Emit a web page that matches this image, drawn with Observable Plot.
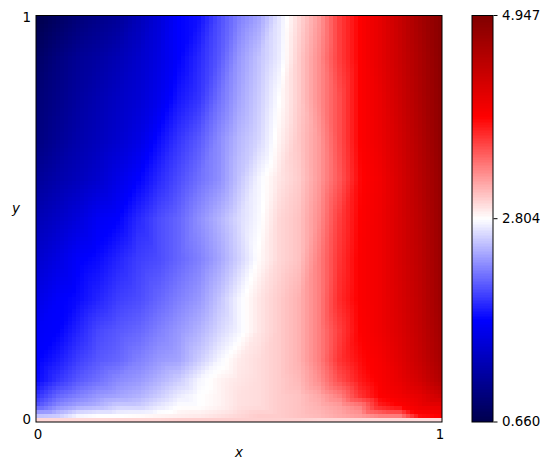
<!DOCTYPE html>
<html><head><meta charset="utf-8">
<style>html,body{margin:0;padding:0;background:#fff}#c{position:relative;width:550px;height:470px}#c svg{position:absolute;left:0;top:0;background:transparent}</style>
<script src="https://cdn.jsdelivr.net/npm/d3@7"></script>
<script src="https://cdn.jsdelivr.net/npm/@observablehq/plot@0.6"></script>
</head><body><div id="c"></div>
<script>
const xs = [0,.05,.1,.15,.2,.25,.3,.35,.4,.45,.5,.55,.6,.65,.7,.75,.8,.85,.9,.95,1];
const row100 = [0.66,0.79,0.92,1.02,1.11,1.30,1.50,1.73,1.80,2.05,2.27,2.42,2.70,2.97,3.23,3.62,3.88,4.09,4.35,4.63,4.86];
const row090 = [0.81,0.96,1.09,1.17,1.28,1.41,1.56,1.73,1.90,2.10,2.37,2.55,2.72,3.02,3.28,3.62,3.88,4.09,4.33,4.58,4.84];
const row080 = [0.90,1.02,1.15,1.26,1.37,1.47,1.62,1.82,1.95,2.20,2.42,2.59,2.80,3.02,3.28,3.55,3.88,4.05,4.30,4.56,4.82];
const row070 = [0.96,1.09,1.22,1.32,1.43,1.56,1.77,1.95,2.10,2.31,2.50,2.63,2.85,3.04,3.23,3.55,3.88,4.03,4.26,4.52,4.80];
const row060 = [1.11,1.22,1.32,1.43,1.58,1.73,1.90,2.05,2.20,2.33,2.55,2.76,2.91,3.02,3.23,3.51,3.85,3.98,4.22,4.48,4.75];
const row050 = [1.28,1.39,1.52,1.67,1.73,1.90,2.05,2.16,2.33,2.48,2.65,2.78,2.97,3.06,3.28,3.62,3.88,4.00,4.22,4.45,4.73];
const row040 = [1.43,1.56,1.71,1.77,1.88,1.99,2.05,2.16,2.27,2.42,2.61,2.82,2.97,3.06,3.34,3.66,3.90,4.00,4.22,4.43,4.71];
const row030 = [1.58,1.71,1.77,1.88,1.99,2.05,2.16,2.27,2.37,2.55,2.76,2.91,3.02,3.13,3.34,3.70,3.90,4.00,4.20,4.41,4.69];
const row022 = [1.69,1.73,1.88,2.03,2.10,2.16,2.27,2.37,2.48,2.63,2.76,2.91,3.02,3.13,3.34,3.62,3.88,4.00,4.18,4.39,4.65];
const row015 = [1.73,1.84,1.99,2.10,2.16,2.27,2.37,2.42,2.59,2.76,2.89,2.95,3.02,3.13,3.34,3.66,3.83,3.94,4.13,4.35,4.60];
const row010 = [1.77,1.95,2.10,2.20,2.31,2.37,2.48,2.59,2.76,2.85,2.91,2.95,3.02,3.10,3.28,3.55,3.77,3.92,4.07,4.26,4.52];
const row006 = [1.95,2.16,2.27,2.37,2.42,2.48,2.59,2.72,2.80,2.85,2.93,2.95,3.02,3.06,3.17,3.34,3.66,3.88,3.98,4.09,4.30];
const row0035 = [2.10,2.31,2.42,2.48,2.59,2.59,2.70,2.80,2.80,2.85,2.93,2.95,3.02,3.06,3.13,3.21,3.34,3.75,3.88,4.03,4.09];
const row001 = [2.55,2.59,2.76,2.80,2.80,2.82,2.85,2.87,2.89,2.93,2.97,3.02,3.02,3.06,3.10,3.17,3.23,3.34,3.36,3.83,3.88];
const row000 = [2.97,2.97,2.97,2.97,2.98,2.98,2.98,3.00,3.00,3.00,3.00,3.00,3.00,3.00,2.98,2.98,2.98,2.97,2.97,2.95,2.95];
const ys = [1,.9,.8,.7,.6,.5,.4,.3,.22,.15,.1,.06,.035,.01,0];
const rows = [row100,row090,row080,row070,row060,row050,row040,row030,row022,row015,row010,row006,row0035,row001,row000];
const colorStops = [0.66,1.732,2.804,3.875,4.947];
const colorRange = ["#00004d","#0000ff","#ffffff","#ff0000","#800000"];
const cbTicks = [0.66,2.804,4.947];
const gridTicks = [0,1];
const lo=-0.005, hi=1.005;

// Outer edge of the border cells repeats the read values so the raster's hull covers the frame.
const edgeX = x => x===0 ? [lo,0] : x===1 ? [1,hi] : [x];
const edgeY = y => y===0 ? [lo,0] : y===1 ? [1,hi] : [y];
const cells = rows.flatMap((r,j)=>r.flatMap((v,i)=>edgeX(xs[i]).flatMap(x=>edgeY(ys[j]).map(y=>({x,y,v})))));
const color = {type:"linear",domain:colorStops,range:colorRange,interpolate:"rgb"};
const font = {fontFamily:"'DejaVu Sans'",fontSize:"13.4px",background:"transparent"};

const main = Plot.plot({
  width:550,height:470,marginLeft:35.5,marginRight:108.5,marginTop:15,marginBottom:48.5,
  style:font,color,
  x:{domain:[lo,hi],axis:null},
  y:{domain:[lo,hi],axis:null},
  marks:[
    Plot.raster(cells,{x:"x",y:"y",fill:"v",x1:lo,x2:hi,y1:lo,y2:hi,width:101,height:101,
      interpolate:"barycentric",imageRendering:"pixelated"}),
    Plot.frame({stroke:"#000",strokeWidth:1}),
    Plot.axisX(gridTicks,{anchor:"bottom",tickSize:0,tickPadding:7,tickFormat:d3.format("d"),label:null,fontSize:13.4,color:"#000"}),
    Plot.axisY(gridTicks,{anchor:"left",tickSize:0,tickPadding:5,tickFormat:d3.format("d"),label:null,fontSize:13.4,color:"#000"}),
    Plot.text(["x"],{x:[0.5],frameAnchor:"bottom",dy:35,fontStyle:"italic",fontSize:13.4,fill:"#000"}),
    Plot.text(["y"],{y:[0.525],frameAnchor:"left",dx:-24,fontStyle:"italic",fontSize:13.4,fill:"#000"})
  ]
});

const bar = Plot.plot({
  width:550,height:470,marginLeft:471.5,marginRight:57.5,marginTop:15,marginBottom:48.5,
  style:font,color,
  x:{domain:[0,1],axis:null},
  y:{domain:[colorStops[0],colorStops[4]],axis:null},
  marks:[
    Plot.raster({fill:(x,y)=>y,x1:0,x2:1,y1:colorStops[0],y2:colorStops[4],width:1,height:256,imageRendering:"pixelated"}),
    Plot.frame({stroke:"#000",strokeWidth:1}),
    Plot.axisY(cbTicks,{anchor:"right",tickSize:4,tickPadding:5,tickFormat:d3.format(".3f"),label:null,fontSize:13.4,color:"#000"})
  ]
});
document.getElementById("c").append(main,bar);
</script></body></html>
